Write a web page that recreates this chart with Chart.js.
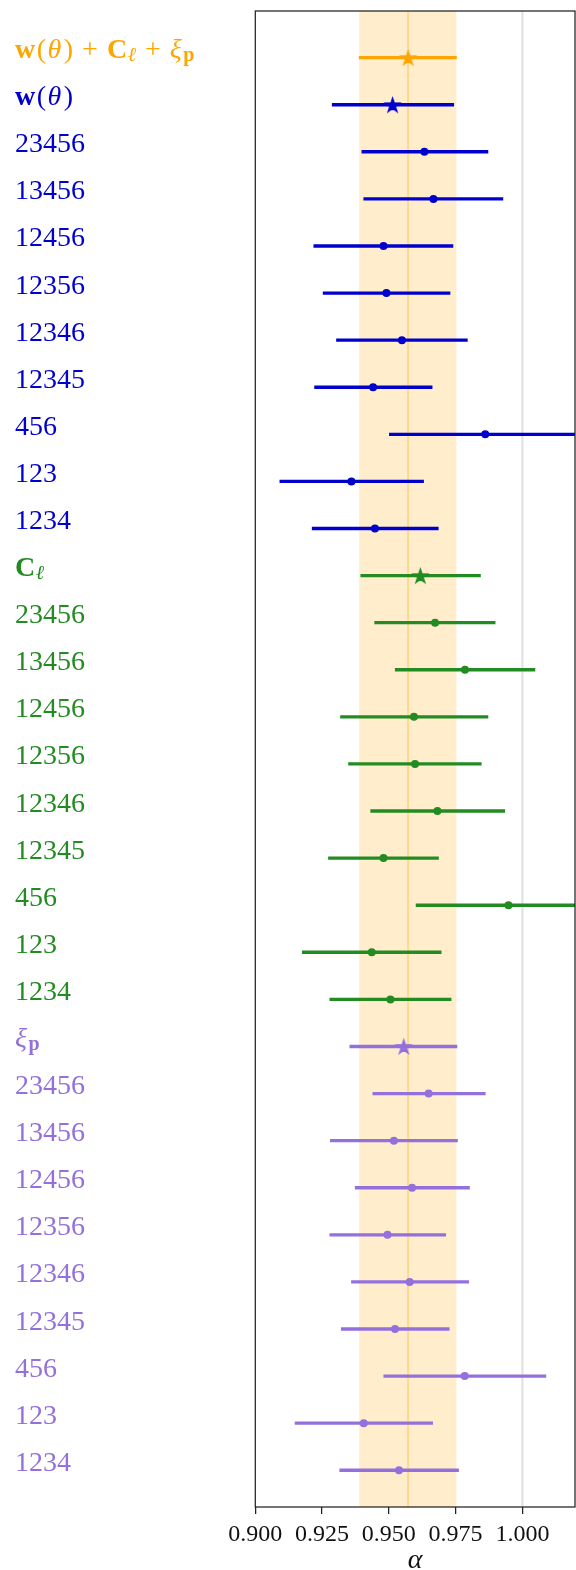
<!DOCTYPE html>
<html><head><meta charset="utf-8">
<script src="https://cdn.jsdelivr.net/npm/chart.js@4.4.1/dist/chart.umd.min.js"></script>
<style>
html,body{margin:0;padding:0;background:#fff;}
#clip{width:576px;height:1570px;overflow:hidden;position:relative;}
#box{width:576px;height:1600px;position:relative;}
</style></head><body>
<div id="clip"><div id="box"><canvas id="c"></canvas></div></div>
<script>
// ---- data (alpha estimates: central value, lower, upper) ----
const subsets = ['23456','13456','12456','12356','12346','12345','456','123','1234'];
const headLabels = ['w(θ) + Cℓ + ξp', 'w(θ)', 'Cℓ', 'ξp'];

const combinedAlpha = [0.9572, 0.9389, 0.9753];

const wthetaAlpha = [0.9514, 0.9288, 0.9743];
const wthetaMid = [0.9633, 0.9667, 0.9480, 0.9491, 0.9549, 0.9441, 0.9861, 0.9360, 0.9448];
const wthetaLo  = [0.9399, 0.9406, 0.9219, 0.9254, 0.9304, 0.9222, 0.9502, 0.9092, 0.9213];
const wthetaHi  = [0.9871, 0.9927, 0.9740, 0.9729, 0.9794, 0.9662, 1.0220, 0.9630, 0.9685];

const clAlpha = [0.9618, 0.9395, 0.9843];
const clMid = [0.9673, 0.9785, 0.9594, 0.9598, 0.9682, 0.9480, 0.9948, 0.9436, 0.9506];
const clLo  = [0.9447, 0.9524, 0.9319, 0.9349, 0.9432, 0.9274, 0.9602, 0.9176, 0.9279];
const clHi  = [0.9898, 1.0047, 0.9871, 0.9846, 0.9934, 0.9686, 1.0300, 0.9696, 0.9733];

const xiAlpha = [0.9556, 0.9354, 0.9755];
const xiMid = [0.9649, 0.9519, 0.9587, 0.9495, 0.9578, 0.9523, 0.9784, 0.9406, 0.9538];
const xiLo  = [0.9440, 0.9281, 0.9374, 0.9279, 0.9360, 0.9322, 0.9481, 0.9149, 0.9316];
const xiHi  = [0.9861, 0.9757, 0.9802, 0.9713, 0.9799, 0.9726, 1.0088, 0.9664, 0.9761];

const xTicks = [0.900, 0.925, 0.950, 0.975, 1.000];
const referenceAlpha = 1.0;

// ---- styles ----
const ORANGE = '#FFA500', BLUE = '#0000CD', GREEN = '#228B22', PURPLE = '#9370DB';
const SERIF = "'Liberation Serif', 'DejaVu Serif', serif";

// ---- build rows table ----
const rows = [];
rows.push({label: headLabels[0], v: combinedAlpha, color: ORANGE, star: true});
function addGroup(head, headVals, mid, lo, hi, color) {
  rows.push({label: head, v: headVals, color, star: true});
  subsets.forEach((s, k) => rows.push({label: s, v: [mid[k], lo[k], hi[k]], color, star: false}));
}
addGroup(headLabels[1], wthetaAlpha, wthetaMid, wthetaLo, wthetaHi, BLUE);
addGroup(headLabels[2], clAlpha, clMid, clLo, clHi, GREEN);
addGroup(headLabels[3], xiAlpha, xiMid, xiLo, xiHi, PURPLE);

// rich text segments for math labels: [text, style, gap before]
const richSegments = {
  'w(θ) + Cℓ + ξp': [['w','b',0],['(','',1.5],['θ','i',1.5],[')','',2.5],['+','',9],['C','b',9],['ℓ','is',0.5],['+','',9],['ξ','i',9],['p','bs',1.5]],
  'w(θ)': [['w','b',0],['(','',1.5],['θ','i',1.5],[')','',2.5]],
  'Cℓ': [['C','b',0],['ℓ','is',0.5]],
  'ξp': [['ξ','i',0],['p','bs',1.5]]
};

function starCanvas(color, r) {
  const s = Math.ceil(r * 2 + 6);
  const c = document.createElement('canvas');
  c.width = s; c.height = s;
  const g = c.getContext('2d');
  g.fillStyle = color; g.strokeStyle = color;
  g.lineWidth = 1.4; g.lineJoin = 'miter';
  g.beginPath();
  for (let k = 0; k < 10; k++) {
    const rad = (k % 2) ? r * 0.382 : r;
    const a = -Math.PI / 2 + k * Math.PI / 5;
    g.lineTo(s / 2 + rad * Math.cos(a), s / 2 + 0.8 + rad * Math.sin(a));
  }
  g.closePath(); g.fill(); g.stroke();
  return c;
}

const barData = rows.map((r, i) => ({x: [r.v[1], r.v[2]], y: i}));
const dotRows = rows.map((r, i) => ({r, i})).filter(o => !o.r.star);
const starRows = rows.map((r, i) => ({r, i})).filter(o => o.r.star);

const bgPlugin = {
  id: 'bg',
  beforeDatasetsDraw(chart) {
    const {ctx, chartArea: a, scales: {x}} = chart;
    ctx.save();
    ctx.beginPath(); ctx.rect(a.left, a.top, a.right - a.left, a.bottom - a.top); ctx.clip();
    const l = x.getPixelForValue(combinedAlpha[1]), h = x.getPixelForValue(combinedAlpha[2]);
    ctx.fillStyle = 'rgba(255,165,0,0.2)';
    ctx.fillRect(l, a.top, h - l, a.bottom - a.top);
    ctx.strokeStyle = 'rgba(255,165,0,0.3)';
    ctx.lineWidth = 2;
    const m = x.getPixelForValue(combinedAlpha[0]);
    ctx.beginPath(); ctx.moveTo(m, a.top); ctx.lineTo(m, a.bottom); ctx.stroke();
    ctx.strokeStyle = '#e0e0e0';
    const rv = x.getPixelForValue(referenceAlpha);
    ctx.beginPath(); ctx.moveTo(rv, a.top); ctx.lineTo(rv, a.bottom); ctx.stroke();
    ctx.restore();
  },
  afterDatasetsDraw(chart) {
    const {ctx, chartArea: a} = chart;
    ctx.save();
    ctx.strokeStyle = '#222'; ctx.lineWidth = 1.25;
    ctx.strokeRect(a.left, a.top, a.right - a.left, a.bottom - a.top);
    ctx.restore();
  },
  afterDraw(chart) {
    const {ctx, scales: {y}} = chart;
    ctx.save();
    ctx.textBaseline = 'alphabetic';
    ctx.textAlign = 'left';
    rows.forEach((r, i) => {
      const base = y.getPixelForValue(i) + 0.5;
      let xp = 15;
      ctx.fillStyle = r.color;
      const segs = richSegments[r.label] || [[r.label, '', 0]];
      segs.forEach(([t, st, gap]) => {
        const sub = st.includes('s');
        const size = sub ? 20 : 28;
        ctx.font = (st.includes('i') ? 'italic ' : '') + (st.includes('b') ? 'bold ' : '') + size + 'px ' + SERIF;
        xp += gap;
        ctx.fillText(t, xp, base + (sub ? 3 : 0));
        xp += ctx.measureText(t).width;
      });
    });
    ctx.restore();
  }
};

new Chart(document.getElementById('c'), {
  type: 'bar',
  data: {
    datasets: [
      {
        type: 'scatter', order: 1,
        data: dotRows.map(o => ({x: o.r.v[0], y: o.i})),
        pointRadius: 4, pointBorderWidth: 0,
        pointBackgroundColor: dotRows.map(o => o.r.color),
        pointHoverRadius: 4
      },
      {
        type: 'scatter', order: 0,
        data: starRows.map(o => ({x: o.r.v[0], y: o.i})),
        pointStyle: starRows.map(o => starCanvas(o.r.color, 7.4)),
        pointRadius: 8
      },
      {
        type: 'bar', order: 2,
        data: barData,
        backgroundColor: rows.map(r => r.color),
        borderWidth: 0,
        barThickness: 2.7
      }
    ]
  },
  options: {
    indexAxis: 'y',
    responsive: true,
    maintainAspectRatio: false,
    animation: false,
    devicePixelRatio: 1,
    layout: {autoPadding: false, padding: {top: 11, right: 1, left: 0, bottom: 0}},
    plugins: {legend: {display: false}, tooltip: {enabled: false}},
    scales: {
      x: {
        type: 'linear', position: 'bottom',
        min: 0.9, max: 1.0197, offset: false,
        afterBuildTicks: s => { s.ticks = xTicks.map(v => ({value: v})); },
        afterFit: s => { s.height = 93; },
        ticks: {
          callback: v => Number(v).toFixed(3),
          font: {family: SERIF, size: 24},
          color: '#111', padding: 6, maxRotation: 0, autoSkip: false
        },
        grid: {display: true, drawOnChartArea: false, drawTicks: true, tickLength: 7, color: '#222', lineWidth: 1.25},
        border: {display: false},
        title: {display: true, text: 'α', font: {family: SERIF, size: 28, style: 'italic'}, color: '#111', padding: {top: 0, bottom: 22.7}}
      },
      y: {
        type: 'linear', position: 'left', reverse: true, offset: false,
        min: -0.99, max: 30.78,
        afterFit: s => { s.width = 255.3; },
        ticks: {display: false},
        grid: {display: false, offset: false},
        border: {display: false}
      }
    }
  },
  plugins: [bgPlugin]
});
</script>
</body></html>
